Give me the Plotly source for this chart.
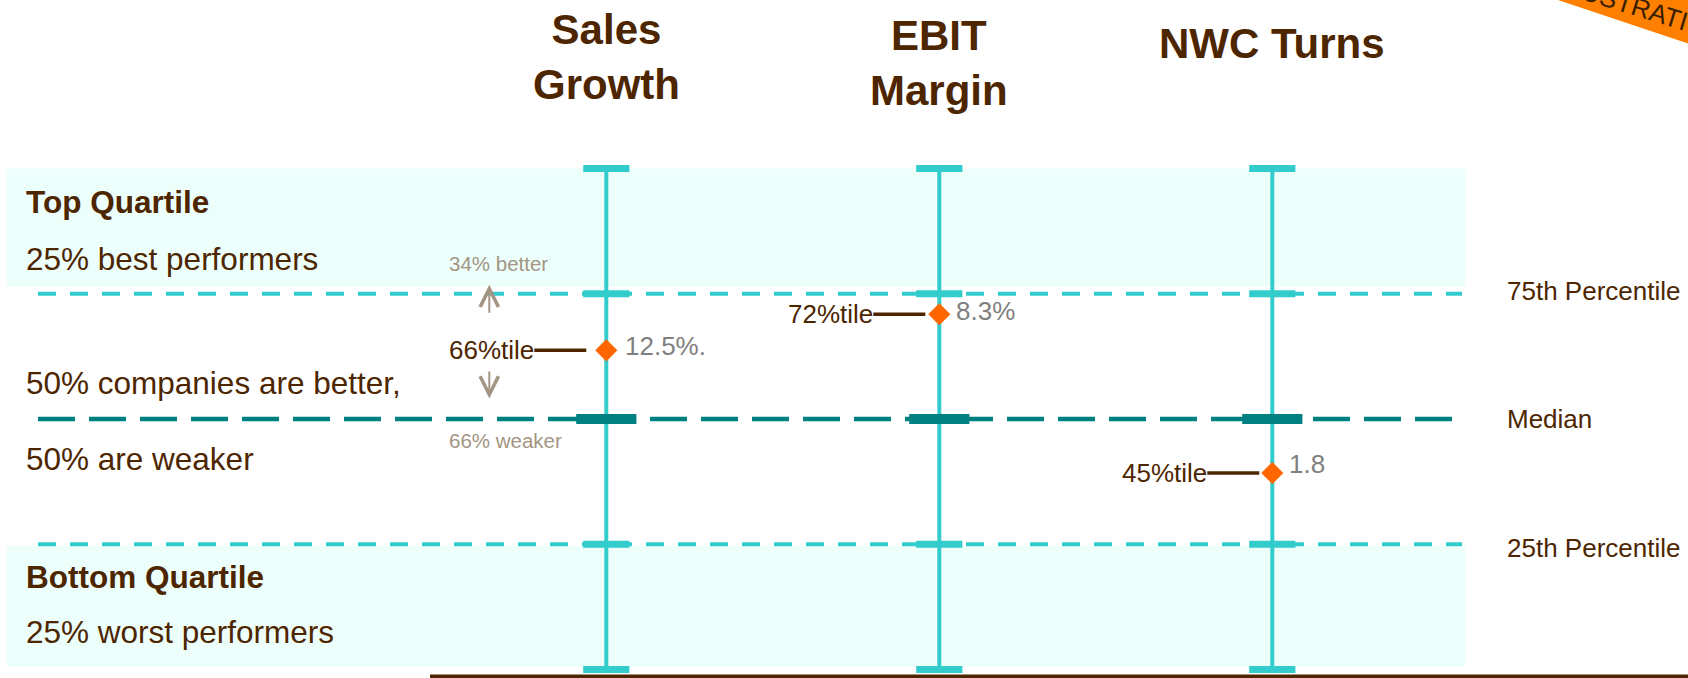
import plotly.graph_objects as go

# ---------------- data ----------------
metrics = ["Sales Growth", "EBIT Margin", "NWC Turns"]
metric_titles = ["<b>Sales<br>Growth</b>", "<b>EBIT<br>Margin</b>", "<b>NWC Turns</b>"]
company_percentile = [66, 72, 45]          # percentile rank of the company per metric
marker_level = [63.7, 70.9, 39.2]          # where the diamond is drawn on the schematic 0-100 scale
company_value = ["12.5%.", "8.3%", "1.8"]
ref_levels = [75, 50, 25]
ref_names = ["75th Percentile", "Median", "25th Percentile"]
scale_ends = [0, 100]
cap_levels = [0, 25, 75, 100]
top_zone = [76.4, 100]
bottom_zone = [0.5, 24.6]
zone_titles = ["Top Quartile", "Bottom Quartile"]
zone_texts = ["25% best performers", "25% worst performers"]
middle_texts = ["50% companies are better,", "50% are weaker"]
stamp_text = "ILLUSTRATIVE"

# ---------------- style ----------------
W, H = 1688, 678
FONT = "Liberation Sans, Arial, sans-serif"
BROWN = "#4D2600"
TURQ = "#33CCCC"
TEAL = "#008080"
BAND = "#EDFFFB"
ORANGE = "#FF6600"
GRAY = "#808080"
TAN = "#A39584"
STAMP = "#FF8000"


def py(px):
    return 1 - px / H


def pxx(px):
    return px / W


fig = go.Figure()

# vertical range lines
vx, vy = [], []
for m in metrics:
    vx += [m, m, None]
    vy += [scale_ends[0], scale_ends[1], None]
fig.add_trace(go.Scatter(x=vx, y=vy, mode="lines",
                         line=dict(color=TURQ, width=4), hoverinfo="skip"))

# caps / quartile ticks
cx, cy = [], []
for m in metrics:
    for lv in cap_levels:
        cx.append(m)
        cy.append(lv)
fig.add_trace(go.Scatter(x=cx, y=cy, mode="markers", hoverinfo="skip",
                         marker=dict(symbol="line-ew", size=33,
                                     line=dict(color=TURQ, width=7))))

# median ticks
fig.add_trace(go.Scatter(x=metrics, y=[ref_levels[1]] * len(metrics), mode="markers",
                         hoverinfo="skip",
                         marker=dict(symbol="line-ew", size=43,
                                     line=dict(color=TEAL, width=10))))

# company markers
fig.add_trace(go.Scatter(x=metrics, y=marker_level, mode="markers", hoverinfo="skip",
                         marker=dict(symbol="diamond", size=17, color=ORANGE,
                                     line=dict(width=0))))

shapes = []
# quartile zones
for z in (top_zone, bottom_zone):
    shapes.append(dict(type="rect", xref="paper", yref="y", x0=pxx(7), x1=pxx(1465),
                       y0=z[0], y1=z[1], fillcolor=BAND, line=dict(width=0),
                       layer="below"))
# reference lines
for lv, name in zip(ref_levels, ref_names):
    if name == "Median":
        ln = dict(color=TEAL, width=4.5, dash="37px,14px")
    else:
        ln = dict(color=TURQ, width=4, dash="18px,14px")
    shapes.append(dict(type="line", xref="paper", yref="y", x0=pxx(38), x1=pxx(1462),
                       y0=lv, y1=lv, line=ln, layer="below"))
# bottom baseline
shapes.append(dict(type="line", xref="paper", yref="paper", x0=pxx(430), x1=1.0,
                   y0=py(676.5), y1=py(676.5), line=dict(color=BROWN, width=4)))
# stamp banner
shapes.append(dict(type="path", xref="paper", yref="paper",
                   path=f"M {pxx(1558)},{py(0)} L {pxx(1710)},{py(51)} L {pxx(1720)},{py(-30)} L {pxx(1480)},{py(-30)} Z",
                   fillcolor=STAMP, line=dict(width=0)))

ann = []
# metric titles
title_px = [56.5, 63.3, 43.3]
for m, t, tp in zip(metrics, metric_titles, title_px):
    ann.append(dict(x=m, xref="x", y=py(tp), yref="paper", text=t, showarrow=False,
                    xanchor="center", yanchor="middle",
                    font=dict(family=FONT, size=42, color=BROWN)))

# left side texts
left_items = [
    (f"<b>{zone_titles[0]}</b>", 201.7),
    (zone_texts[0], 259),
    (middle_texts[0], 382.7),
    (middle_texts[1], 459),
    (f"<b>{zone_titles[1]}</b>", 576.7),
    (zone_texts[1], 631.7),
]
for txt, ypx in left_items:
    ann.append(dict(x=pxx(25), xref="paper", y=py(ypx), yref="paper", text=txt,
                    showarrow=False, xanchor="left", yanchor="middle", borderpad=0,
                    font=dict(family=FONT, size=31.5, color=BROWN)))

# right reference labels
for lv, name, ys in zip(ref_levels, ref_names, [2.5, 0, -4]):
    ann.append(dict(x=pxx(1506), xref="paper", y=lv, yref="y", yshift=ys, text=name,
                    showarrow=False, xanchor="left", yanchor="middle", borderpad=0,
                    font=dict(family=FONT, size=26, color=BROWN)))

# percentile labels with connector
standoffs = [20, 14, 13]
for m, pct, lv, so in zip(metrics, company_percentile, marker_level, standoffs):
    ann.append(dict(x=m, xref="x", y=lv, yref="y", text=f"{pct}%tile",
                    showarrow=True, arrowhead=0, arrowwidth=3.5, arrowcolor=BROWN,
                    ax=-(so + 51 + 44), ay=0, standoff=so, borderpad=0,
                    font=dict(family=FONT, size=26, color=BROWN)))

# value labels
for m, val, lv, xs, ys in zip(metrics, company_value, marker_level, [18, 16, 16], [4, 3, 9]):
    ann.append(dict(x=m, xref="x", y=lv, yref="y", text=val, showarrow=False,
                    xanchor="left", yanchor="middle", xshift=xs, yshift=ys, borderpad=0,
                    font=dict(family=FONT, size=26, color=GRAY)))

# better / weaker explanation for first metric
p0 = company_percentile[0]
ann.append(dict(x=metrics[0], xref="x", y=ref_levels[0], yref="y", xshift=-158, yshift=30,
                text=f"{100 - p0}% better", showarrow=False, xanchor="left", yanchor="middle",
                borderpad=0, font=dict(family=FONT, size=20.5, color=TAN)))
ann.append(dict(x=metrics[0], xref="x", y=ref_levels[1], yref="y", xshift=-158, yshift=-21.5,
                text=f"{p0}% weaker", showarrow=False, xanchor="left", yanchor="middle",
                borderpad=0, font=dict(family=FONT, size=20.5, color=TAN)))
# up / down arrows
ann.append(dict(x=metrics[0], xref="x", y=ref_levels[0], yref="y", xshift=-117, yshift=9,
                text=" ", showarrow=True, ax=0, ay=29, arrowhead=5, arrowsize=1.8,
                arrowwidth=2, arrowcolor=TAN, standoff=0, borderpad=0,
                font=dict(size=1)))
ann.append(dict(x=metrics[0], xref="x", y=ref_levels[1], yref="y", xshift=-117, yshift=20.5,
                text=" ", showarrow=True, ax=0, ay=-28, arrowhead=5, arrowsize=1.8,
                arrowwidth=2, arrowcolor=TAN, standoff=0, borderpad=0,
                font=dict(size=1)))

# stamp text
ann.append(dict(x=pxx(1634), xref="paper", y=py(6), yref="paper", text=stamp_text,
                showarrow=False, textangle=17, xanchor="center", yanchor="middle",
                font=dict(family=FONT, size=26, color="#3A1E00")))

# axis mapping: category i -> 606.3 + 333*i px ; level p -> 669.5 - 5.01*p px
fig.update_layout(
    width=W, height=H,
    margin=dict(l=0, r=0, t=0, b=0, pad=0),
    paper_bgcolor="white", plot_bgcolor="white",
    showlegend=False,
    shapes=shapes, annotations=ann,
    xaxis=dict(type="category", categoryorder="array", categoryarray=metrics,
               range=[-606.3 / 333, (W - 606.3) / 333], visible=False, fixedrange=True),
    yaxis=dict(range=[(669.5 - H) / 5.01, 669.5 / 5.01], visible=False, fixedrange=True),
    font=dict(family=FONT, color=BROWN),
)

fig.write_html("out.html", config={"displayModeBar": False},
               post_script="document.body.style.margin='0';")
